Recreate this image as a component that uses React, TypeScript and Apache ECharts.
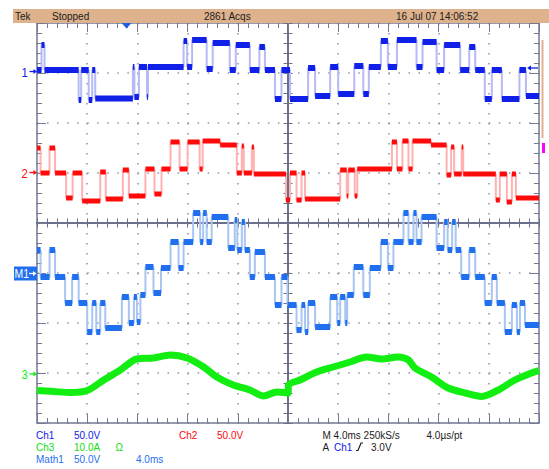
import React, { useEffect, useRef } from "react";
import * as echarts from "echarts";

// Time axis in divisions (4.0 ms/div, 10 divisions); vertical axis in screen divisions from centre.
const T_END = 10;

// Ch1: [start of level (div), level (div)]
const ch1Steps: [number, number][] = [
  [0, 3.06], [0.09, 3.56], [0.15, 3.06], [0.83, 2.46], [0.88, 3.06], [1.03, 2.46], [1.1, 3.06],
  [1.16, 2.49], [1.91, 3.12], [1.94, 2.52], [2.03, 3.12], [2.19, 2.52], [2.21, 3.12], [2.92, 3.64],
  [2.99, 3.12], [3.09, 3.66], [3.38, 3.08], [3.5, 3.6], [3.84, 3.06], [3.96, 3.56], [4.24, 3.06],
  [4.43, 3.52], [4.54, 3.06], [4.74, 2.48], [4.87, 3.06], [5.04, 2.48], [5.4, 3.1], [5.54, 2.54],
  [5.84, 3.12], [6.0, 2.58], [6.32, 3.14], [6.5, 2.58], [6.61, 3.12], [6.85, 3.64], [6.99, 3.12],
  [7.17, 3.66], [7.56, 3.12], [7.68, 3.62], [7.96, 3.06], [8.11, 3.56], [8.43, 3.06], [8.61, 3.52],
  [8.73, 3.06], [8.92, 2.48], [9.06, 3.06], [9.26, 2.48], [9.61, 3.06], [9.74, 2.54],
];

// Ch2
const ch2Steps: [number, number][] = [
  [0, 1.5], [0.07, 1.0], [0.25, 1.5], [0.36, 1.0], [0.58, 0.5], [0.71, 1.0], [0.9, 0.44], [1.26, 1.02],
  [1.37, 0.48], [1.71, 1.06], [1.83, 0.54], [2.16, 1.08], [2.34, 0.58], [2.48, 1.08], [2.66, 1.62],
  [2.84, 1.08], [3.0, 1.62], [3.24, 1.08], [3.3, 1.64], [3.65, 1.56], [3.98, 1.0], [4.08, 1.54],
  [4.12, 1.0], [4.28, 1.52], [4.32, 0.98], [4.96, 0.46], [5.04, 1.0], [5.17, 0.46], [5.27, 1.0],
  [5.34, 0.48], [6.04, 1.06], [6.17, 0.54], [6.2, 1.06], [6.33, 0.54], [6.38, 1.08], [7.07, 1.62],
  [7.17, 1.08], [7.28, 1.64], [7.4, 1.08], [7.48, 1.64], [7.85, 1.56], [8.16, 0.96], [8.25, 1.52],
  [8.31, 0.98], [8.46, 1.52], [8.49, 0.98], [9.14, 0.46], [9.22, 0.98], [9.36, 0.42], [9.46, 0.98],
  [9.54, 0.5],
];

// Math1
const math1Steps: [number, number][] = [
  [0, -0.54], [0.07, -1.08], [0.25, -0.54], [0.36, -1.08], [0.56, -1.6], [0.7, -1.08], [0.83, -1.6],
  [1.0, -2.18], [1.1, -1.6], [1.18, -2.18], [1.26, -1.6], [1.36, -2.1], [1.69, -1.48], [1.83, -2.0],
  [1.93, -1.48], [1.99, -1.98], [2.06, -1.44], [2.16, -0.88], [2.32, -1.4], [2.47, -0.9], [2.66, -0.38],
  [2.82, -0.9], [2.92, -0.38], [3.11, 0.2], [3.25, -0.38], [3.31, 0.2], [3.38, -0.38], [3.48, 0.12],
  [3.81, -0.5], [3.94, 0.06], [3.99, -0.54], [4.08, 0.02], [4.14, -0.54], [4.24, -1.08], [4.34, -0.58],
  [4.54, -1.08], [4.74, -1.64], [4.87, -1.08], [4.99, -1.64], [5.17, -2.14], [5.27, -1.64], [5.34, -2.18],
  [5.4, -1.6], [5.54, -2.08], [5.84, -1.48], [5.98, -2.0], [6.04, -1.48], [6.14, -2.0], [6.18, -1.44],
  [6.31, -0.88], [6.5, -1.44], [6.63, -0.9], [6.85, -0.38], [6.99, -0.9], [7.1, -0.38], [7.3, 0.2],
  [7.4, -0.38], [7.5, 0.2], [7.56, -0.38], [7.66, 0.12], [7.96, -0.5], [8.11, 0.02], [8.18, -0.54],
  [8.27, 0.02], [8.34, -0.54], [8.45, -1.08], [8.61, -0.54], [8.73, -1.08], [8.92, -1.6], [9.06, -1.08],
  [9.16, -1.6], [9.32, -2.18], [9.46, -1.64], [9.56, -2.18], [9.62, -1.6], [9.72, -2.04],
];

// Ch3 (current), read points [time (div), level (div)]
const ch3Trace: [number, number][] = [
  [0, -3.35], [0.33, -3.37], [0.66, -3.39], [1.0, -3.35], [1.33, -3.14], [1.66, -2.94], [1.99, -2.72],
  [2.32, -2.7], [2.66, -2.64], [2.99, -2.7], [3.32, -2.88], [3.58, -3.08], [3.91, -3.24], [4.24, -3.34],
  [4.51, -3.46], [4.78, -3.38], [5.0, -3.4], [5.01, -3.24], [5.24, -3.14], [5.57, -2.98], [5.9, -2.88],
  [6.24, -2.78], [6.57, -2.68], [6.87, -2.72], [7.2, -2.68], [7.4, -2.74], [7.53, -2.9], [7.86, -3.08],
  [8.19, -3.3], [8.53, -3.4], [8.86, -3.47], [9.19, -3.34], [9.52, -3.14], [9.85, -3.0], [10, -2.95],
];

const topTexts = ["Tek", "Stopped", "2861 Acqs", "16 Jul 07 14:06:52"];
const row1 = ["Ch1", "50.0V", "Ch2", "50.0V", "M 4.0ms 250kS/s", "4.0\u00b5s/pt"];
const row2 = ["Ch3", "10.0A", "\u03a9", "A", "Ch1", "3.0V"];
const row3 = ["Math1", "50.0V", "4.0ms"];
const channelMarks = ["1", "2", "M1", "3"];

const GRID = { left: 37, top: 23, width: 502, height: 400 };
const BORDER = "#747994";
const CENTER = "#6a6f8c";
const DOT = "#8f93a9";
const TAN = "#ddb28c";
const FONT = '"Liberation Sans", Arial, sans-serif';
const C1 = "#1020e8";
const C2 = "#ff0a0a";
const C3 = "#12ee12";
const CM = "#1f6fef";
const DARK = "#1c1c1c";

function stepPath(steps: [number, number][]) {
  const out: [number, number][] = [];
  for (let i = 0; i < steps.length; i++) {
    const [t, v] = steps[i];
    const tn = i + 1 < steps.length ? steps[i + 1][0] : T_END;
    out.push([t, v], [tn, v]);
  }
  return out;
}

function levelRuns(steps: [number, number][]) {
  const out: any[] = [];
  for (let i = 0; i < steps.length; i++) {
    const [t, v] = steps[i];
    const tn = i + 1 < steps.length ? steps[i + 1][0] : T_END;
    out.push([t, v], [tn, v], [tn, null]);
  }
  return out;
}

function txt(text: string, x: number, y: number, fill: string, size = 11.5) {
  return {
    type: "text",
    x,
    y,
    scaleX: 0.87,
    z: 20,
    silent: true,
    style: {
      text,
      x: 0,
      y: 0,
      fill,
      fontSize: size,
      fontFamily: FONT,
      verticalAlign: "middle",
      textVerticalAlign: "middle",
    },
  };
}

function arrowRight(x: number, y: number, color: string) {
  return [
    { type: "line", z: 20, silent: true, shape: { x1: x, y1: y, x2: x + 5, y2: y }, style: { stroke: color, lineWidth: 1.3 } },
    { type: "polygon", z: 20, silent: true, shape: { points: [[x + 4, y - 2.5], [x + 7.5, y], [x + 4, y + 2.5]] }, style: { fill: color } },
  ];
}

function borderXAxis(gridIndex: number, position: string, dotted: boolean) {
  return {
    type: "value",
    gridIndex,
    position,
    min: 0,
    max: 10,
    interval: 1,
    axisLine: { show: true, onZero: false, lineStyle: { color: BORDER, width: 1.5 } },
    axisTick: { show: true, inside: true, length: 9, lineStyle: { color: BORDER, width: 1 } },
    minorTick: { show: true, splitNumber: 5, length: 5, lineStyle: { color: BORDER, width: 1 } },
    axisLabel: { show: false },
    splitLine: dotted ? { show: true, lineStyle: { color: DOT, width: 1.5, type: [1.5, 8.5] } } : { show: false },
    minorSplitLine: { show: false },
  };
}

function borderYAxis(gridIndex: number, position: string, dotted: boolean) {
  return {
    type: "value",
    gridIndex,
    position,
    min: -4,
    max: 4,
    interval: 1,
    axisLine: { show: true, onZero: false, lineStyle: { color: BORDER, width: 1.5 } },
    axisTick: { show: true, inside: true, length: 9, lineStyle: { color: BORDER, width: 1 } },
    minorTick: { show: true, splitNumber: 5, length: 5, lineStyle: { color: BORDER, width: 1 } },
    axisLabel: { show: false },
    splitLine: dotted ? { show: true, lineStyle: { color: DOT, width: 1.5, type: [1.5, 8.54] } } : { show: false },
    minorSplitLine: { show: false },
  };
}

function centerAxis(gridIndex: number, inside: boolean, isX: boolean) {
  return {
    type: "value",
    gridIndex,
    min: isX ? -5 : -4,
    max: isX ? 5 : 4,
    interval: 0.2,
    axisLine: { show: true, onZero: true, lineStyle: { color: CENTER, width: 2 } },
    axisTick: { show: true, inside, length: 4.5, lineStyle: { color: CENTER, width: 1 } },
    axisLabel: { show: false },
    splitLine: { show: false },
  };
}

function digital(steps: [number, number][], strong: string, light: string, width: number) {
  return [
    {
      type: "line",
      xAxisIndex: 0,
      yAxisIndex: 0,
      data: stepPath(steps),
      symbol: "none",
      silent: true,
      z: 3,
      lineStyle: { color: light, width: 2 },
    },
    {
      type: "line",
      xAxisIndex: 0,
      yAxisIndex: 0,
      data: levelRuns(steps),
      symbol: "none",
      silent: true,
      connectNulls: false,
      z: 4,
      lineStyle: { color: strong, width, cap: "butt" },
    },
  ];
}

export default function App() {
  const ref = useRef<HTMLDivElement>(null);

  useEffect(() => {
    document.body.style.margin = "0";
    const chart = echarts.init(ref.current!, null, { renderer: "svg" });
    const grids = [0, 1, 2, 3].map(() => ({ ...GRID, outerBoundsMode: "none", containLabel: false }));

    const graphics: any[] = [
      { type: "rect", z: 10, silent: true, shape: { x: 13, y: 9, width: 536, height: 14 }, style: { fill: TAN } },
      txt(topTexts[0], 15, 16, DARK),
      txt(topTexts[1], 52, 16, DARK),
      txt(topTexts[2], 204, 16, DARK),
      txt(topTexts[3], 396, 16, DARK),
      { type: "polygon", z: 20, silent: true, shape: { points: [[121.5, 23], [131.5, 23], [126.5, 28.5]] }, style: { fill: "#2060e0" } },
      // right-side indicators
      { type: "rect", z: 10, silent: true, shape: { x: 541.5, y: 40, width: 2, height: 98 }, style: { fill: TAN } },
      { type: "rect", z: 10, silent: true, shape: { x: 542, y: 143, width: 3, height: 10 }, style: { fill: "#ff00ff" } },
      { type: "line", z: 20, silent: true, shape: { x1: 530, y1: 68, x2: 538, y2: 68 }, style: { stroke: C1, lineWidth: 1.3 } },
      { type: "polygon", z: 20, silent: true, shape: { points: [[531, 65.5], [527, 68], [531, 70.5]] }, style: { fill: C1 } },
      // channel markers
      txt(channelMarks[0], 21.5, 73, C1, 13),
      ...arrowRight(29.5, 71.5, C1),
      txt(channelMarks[1], 21.5, 174, C2, 13),
      ...arrowRight(29.5, 172.5, C2),
      { type: "rect", z: 15, silent: true, shape: { x: 14, y: 266.5, width: 23, height: 14 }, style: { fill: CM } },
      txt(channelMarks[2], 14.5, 274, "#ffffff", 12),
      ...arrowRight(29, 273.5, "#ffffff"),
      txt(channelMarks[3], 21.5, 375, C3, 13),
      ...arrowRight(29.5, 374, C3),
      // bottom readout
      txt(row1[0], 36, 434.5, C1),
      txt(row1[1], 74, 434.5, C1),
      txt(row1[2], 179, 434.5, C2),
      txt(row1[3], 217, 434.5, C2),
      txt(row1[4], 322.5, 434.5, DARK),
      txt(row1[5], 426.5, 434.5, DARK),
      txt(row2[0], 36, 446.5, "#10dd10"),
      txt(row2[1], 74, 446.5, "#10dd10"),
      txt(row2[2], 115.5, 446.5, "#10dd10"),
      txt(row2[3], 322.5, 446.5, DARK),
      txt(row2[4], 334, 446.5, C1),
      {
        type: "polyline",
        z: 20,
        silent: true,
        shape: { points: [[356, 450.5], [358, 450.5], [361, 443], [363, 443]] },
        style: { stroke: DARK, lineWidth: 1.2, fill: null },
      },
      txt(row2[5], 371, 446.5, DARK),
      txt(row3[0], 36, 458.5, CM),
      txt(row3[1], 74, 458.5, CM),
      txt(row3[2], 136, 458.5, CM),
    ];

    chart.setOption({
      animation: false,
      backgroundColor: "#ffffff",
      grid: grids,
      xAxis: [
        borderXAxis(0, "bottom", true),
        borderXAxis(1, "top", false),
        centerAxis(2, true, true),
        centerAxis(3, false, true),
      ],
      yAxis: [
        borderYAxis(0, "left", true),
        borderYAxis(1, "right", false),
        centerAxis(2, true, false),
        centerAxis(3, false, false),
      ],
      series: [
        ...digital(ch1Steps, C1, "#b6baf5", 6),
        ...digital(ch2Steps, C2, "#ffb2b2", 5),
        ...digital(math1Steps, CM, "#a9c6f2", 6),
        {
          type: "line",
          xAxisIndex: 0,
          yAxisIndex: 0,
          data: ch3Trace,
          symbol: "none",
          silent: true,
          smooth: 0.3,
          z: 4,
          lineStyle: { color: C3, width: 7 },
        },
      ],
      graphic: { elements: graphics },
    });
    return () => chart.dispose();
  }, []);

  return <div ref={ref} style={{ width: 549, height: 469, background: "#fff" }} />;
}
